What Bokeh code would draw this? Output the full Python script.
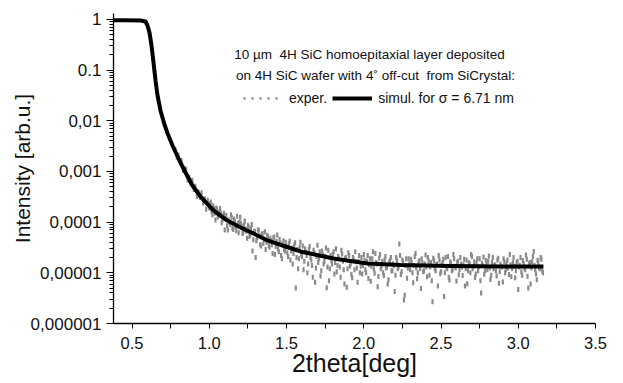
import math
from bokeh.plotting import figure
from bokeh.models import FixedTicker, Label, Legend, LegendItem, Range1d, Title
from bokeh.embed import file_html
from bokeh.resources import INLINE

# ---- data ----
sim_x = [0.38, 0.45, 0.555, 0.587, 0.600, 0.613, 0.626, 0.639, 0.652, 0.665, 0.684,
         0.710, 0.730, 0.762, 0.801, 0.846, 0.891, 0.943, 1.027, 1.105, 1.202,
         1.299, 1.377, 1.493, 1.590, 1.804, 2.024, 2.238, 2.561, 2.885, 3.163]
sim_y = [0.96, 0.96, 0.955, 0.91, 0.76, 0.55, 0.307, 0.142, 0.0625, 0.0316, 0.016,
         0.00845, 0.00562, 0.00326, 0.0018, 9.55e-4, 5.28e-4, 3.2e-4, 1.7e-4, 1.13e-4, 7.85e-5,
         5.7e-5, 4.35e-5, 3.31e-5, 2.64e-5, 1.92e-5, 1.53e-5, 1.43e-5, 1.36e-5, 1.33e-5, 1.33e-5]

# experimental points, first set
exper_x = [
    0.78, 0.79, 0.80, 0.81, 0.82, 0.83, 0.84, 0.85, 0.86, 0.87,
    0.88, 0.89, 0.90, 0.91, 0.92, 0.93, 0.94, 0.95, 0.96, 0.97,
    0.98, 0.99, 1.00, 1.01, 1.02, 1.03, 1.04, 1.05, 1.06, 1.07,
    1.08, 1.09, 1.10, 1.11, 1.12, 1.13, 1.14, 1.15, 1.16, 1.17,
    1.18, 1.19, 1.20, 1.21, 1.22, 1.23, 1.24, 1.25, 1.26, 1.27,
    1.28, 1.29, 1.30, 1.31, 1.32, 1.33, 1.34, 1.35, 1.36, 1.37,
    1.38, 1.39, 1.40, 1.41, 1.42, 1.43, 1.44, 1.45, 1.46, 1.47,
    1.48, 1.49, 1.50, 1.51, 1.52, 1.53, 1.54, 1.55, 1.56, 1.57,
    1.58, 1.59, 1.60, 1.61, 1.62, 1.63, 1.64, 1.65, 1.66, 1.67,
    1.68, 1.69, 1.70, 1.71, 1.72, 1.73, 1.74, 1.75, 1.76, 1.77,
    1.78, 1.79, 1.80, 1.81, 1.82, 1.83, 1.84, 1.85, 1.86, 1.87,
    1.88, 1.89, 1.90, 1.91, 1.92, 1.93, 1.94, 1.95, 1.96, 1.97,
    1.98, 1.99, 2.00, 2.01, 2.02, 2.03, 2.04, 2.05, 2.06, 2.07,
    2.08, 2.09, 2.10, 2.11, 2.12, 2.13, 2.14, 2.15, 2.16, 2.17,
    2.18, 2.19, 2.20, 2.21, 2.22, 2.23, 2.24, 2.25, 2.26, 2.27,
    2.28, 2.29, 2.30, 2.31, 2.32, 2.33, 2.34, 2.35, 2.36, 2.37,
    2.38, 2.39, 2.40, 2.41, 2.42, 2.43, 2.44, 2.45, 2.46, 2.47,
    2.48, 2.49, 2.50, 2.51, 2.52, 2.53, 2.54, 2.55, 2.56, 2.57,
    2.58, 2.59, 2.60, 2.61, 2.62, 2.63, 2.64, 2.65, 2.66, 2.67,
    2.68, 2.69, 2.70, 2.71, 2.72, 2.73, 2.74, 2.75, 2.76, 2.77,
    2.78, 2.79, 2.80, 2.81, 2.82, 2.83, 2.84, 2.85, 2.86, 2.87,
    2.88, 2.89, 2.90, 2.91, 2.92, 2.93, 2.94, 2.95, 2.96, 2.97,
    2.98, 2.99, 3.00, 3.01, 3.02, 3.03, 3.04, 3.05, 3.06, 3.07,
    3.08, 3.09, 3.10, 3.11, 3.12, 3.13, 3.14, 3.15, 3.16]
exper_y = [
    2.7e-3, 1.9e-3, 2.1e-3, 1.5e-3, 1.65e-3, 1.05e-3, 1.15e-3, 1.1e-3, 6.7e-4, 7.7e-4,
    5.8e-4, 6.7e-4, 4.4e-4, 5.1e-4, 3.2e-4, 4.0e-4, 3.1e-4, 3.8e-4, 2.4e-4, 2.9e-4,
    1.8e-4, 2.7e-4, 1.9e-4, 2.5e-4, 1.4e-4, 1.85e-4, 1.1e-4, 1.8e-4, 1.35e-4, 1.85e-4,
    9.7e-5, 1.35e-4, 7.0e-5, 1.35e-4, 7.0e-5, 1.0e-4, 1.4e-4, 7.6e-5, 1.15e-4, 8.0e-5,
    1.3e-4, 6.2e-5, 1.25e-4, 8.4e-5, 6.3e-5, 1.05e-4, 6.6e-5, 8.7e-5, 5.2e-5, 7.5e-5,
    2.7e-5, 6.5e-5, 2.0e-5, 5.0e-5, 6.9e-5, 3.6e-5, 5.7e-5, 3.8e-5, 6.5e-5, 4.0e-5,
    5.2e-5, 3.2e-5, 4.3e-5, 2.4e-5, 5.1e-5, 3.3e-5, 5.6e-5, 2.6e-5, 3.9e-5, 1.9e-5,
    4.3e-5, 2.7e-5, 3.3e-5, 2.1e-5, 4.2e-5, 2.7e-5, 1.5e-5, 3.5e-5, 5.0e-6, 2.9e-5,
    1.9e-5, 4.0e-5, 2.1e-5, 1.15e-5, 3.0e-5, 2.2e-5, 1.5e-5, 3.3e-5, 1.8e-5, 8.2e-6,
    2.5e-5, 1.25e-5, 3.5e-5, 1.9e-5, 8.7e-6, 2.7e-5, 1.5e-5, 2.1e-5, 5.1e-6, 2.8e-5,
    1.2e-5, 1.75e-5, 2.3e-5, 9.5e-6, 3.0e-5, 1.4e-5, 1.9e-5, 8.2e-6, 2.35e-5, 1.15e-5,
    1.95e-5, 5.2e-6, 2.5e-5, 1.35e-5, 9.3e-6, 2.0e-5, 1.15e-5, 1.65e-5, 6.5e-6, 2.2e-5,
    1.35e-5, 9.5e-6, 2.3e-5, 1.15e-5, 1.7e-5, 7.7e-6, 1.9e-5, 1.35e-5, 2.6e-5, 9.8e-6,
    1.6e-5, 5.3e-6, 1.95e-5, 1.2e-5, 1.7e-5, 8.9e-6, 2.1e-5, 1.3e-5, 7.3e-6, 1.75e-5,
    1.1e-5, 1.5e-5, 4.3e-6, 2.0e-5, 1.2e-5, 3.7e-5, 9.3e-6, 1.8e-5, 2.9e-6, 1.4e-5,
    7.8e-6, 1.9e-5, 1.15e-5, 1.6e-5, 6.4e-6, 2.1e-5, 1.25e-5, 9.9e-6, 1.75e-5, 4.9e-6,
    1.55e-5, 1.1e-5, 2.25e-5, 8.4e-6, 1.7e-5, 1.3e-5, 7.0e-6, 1.95e-5, 1.2e-5, 1.45e-5,
    5.5e-6, 1.8e-5, 1.05e-5, 1.6e-5, 3.4e-6, 2.0e-5, 1.2e-5, 8.2e-6, 1.65e-5, 1.1e-5,
    2.3e-5, 1.35e-5, 6.9e-6, 1.7e-5, 1.15e-5, 1.5e-5, 8.9e-6, 1.85e-5, 1.2e-5, 6.1e-6,
    1.6e-5, 1.0e-5, 2.1e-5, 1.35e-5, 8.1e-6, 1.55e-5, 1.1e-5, 1.9e-5, 4.0e-6, 1.4e-5,
    9.4e-6, 1.75e-5, 1.15e-5, 2.15e-5, 7.4e-6, 1.6e-5, 1.2e-5, 1.45e-5, 8.7e-6, 1.95e-5,
    1.05e-5, 1.35e-5, 6.6e-6, 1.65e-5, 1.15e-5, 1.8e-5, 9.3e-6, 1.45e-5, 1.2e-5, 2.0e-5,
    8.0e-6, 1.6e-5, 4.7e-6, 1.4e-5, 1.05e-5, 1.75e-5, 1.25e-5, 2.25e-5, 8.6e-6, 1.5e-5,
    6.0e-6, 1.65e-5, 2.65e-5, 1.15e-5, 7.3e-6, 1.6e-5, 1.2e-5, 1.85e-5, 1.0e-5]

# experimental points, interleaved set
exper_x2 = [
    1.005, 1.015, 1.025, 1.035, 1.045, 1.055, 1.065, 1.075, 1.085, 1.095,
    1.105, 1.115, 1.125, 1.135, 1.145, 1.155, 1.165, 1.175, 1.185, 1.195,
    1.205, 1.215, 1.225, 1.235, 1.245, 1.255, 1.265, 1.275, 1.285, 1.295,
    1.305, 1.315, 1.325, 1.335, 1.345, 1.355, 1.365, 1.375, 1.385, 1.395,
    1.405, 1.415, 1.425, 1.435, 1.445, 1.455, 1.465, 1.475, 1.485, 1.495,
    1.505, 1.515, 1.525, 1.535, 1.545, 1.555, 1.565, 1.575, 1.585, 1.595,
    1.605, 1.615, 1.625, 1.635, 1.645, 1.655, 1.665, 1.675, 1.685, 1.695,
    1.705, 1.715, 1.725, 1.735, 1.745, 1.755, 1.765, 1.775, 1.785, 1.795,
    1.805, 1.815, 1.825, 1.835, 1.845, 1.855, 1.865, 1.875, 1.885, 1.895,
    1.905, 1.915, 1.925, 1.935, 1.945, 1.955, 1.965, 1.975, 1.985, 1.995,
    2.005, 2.015, 2.025, 2.035, 2.045, 2.055, 2.065, 2.075, 2.085, 2.095,
    2.105, 2.115, 2.125, 2.135, 2.145, 2.155, 2.165, 2.175, 2.185, 2.195,
    2.205, 2.215, 2.225, 2.235, 2.245, 2.255, 2.265, 2.275, 2.285, 2.295,
    2.305, 2.315, 2.325, 2.335, 2.345, 2.355, 2.365, 2.375, 2.385, 2.395,
    2.405, 2.415, 2.425, 2.435, 2.445, 2.455, 2.465, 2.475, 2.485, 2.495,
    2.505, 2.515, 2.525, 2.535, 2.545, 2.555, 2.565, 2.575, 2.585, 2.595,
    2.605, 2.615, 2.625, 2.635, 2.645, 2.655, 2.665, 2.675, 2.685, 2.695,
    2.705, 2.715, 2.725, 2.735, 2.745, 2.755, 2.765, 2.775, 2.785, 2.795,
    2.805, 2.815, 2.825, 2.835, 2.845, 2.855, 2.865, 2.875, 2.885, 2.895,
    2.905, 2.915, 2.925, 2.935, 2.945, 2.955, 2.965, 2.975, 2.985, 2.995,
    3.005, 3.015, 3.025, 3.035, 3.045, 3.055, 3.065, 3.075, 3.085, 3.095,
    3.105, 3.115, 3.125, 3.135, 3.145, 3.155]
exper_y2 = [
    2.3e-4, 1.6e-4, 2.1e-4, 1.5e-4, 1.9e-4, 1.25e-4, 1.6e-4, 1.5e-4, 1.1e-4, 1.5e-4,
    1.2e-4, 8.5e-5, 1.1e-4, 9.0e-5, 1.25e-4, 7.2e-5, 1.05e-4, 6.8e-5, 9.5e-5, 1.0e-4,
    9.5e-5, 6.0e-5, 8.8e-5, 7.3e-5, 4.8e-5, 8.0e-5, 5.6e-5, 9.0e-5, 4.5e-5, 6.6e-5,
    4.3e-5, 7.0e-5, 5.4e-5, 3.4e-5, 6.0e-5, 4.6e-5, 2.9e-5, 5.5e-5, 3.5e-5, 4.8e-5,
    3.6e-5, 4.9e-5, 2.3e-5, 4.2e-5, 3.0e-5, 4.6e-5, 2.2e-5, 3.6e-5, 2.9e-5, 4.0e-5,
    2.5e-5, 3.7e-5, 1.8e-5, 3.1e-5, 2.4e-5, 3.9e-5, 2.0e-5, 1.2e-5, 3.2e-5, 2.3e-5,
    3.4e-5, 1.7e-5, 2.6e-5, 1.0e-5, 2.9e-5, 2.0e-5, 1.4e-5, 2.8e-5, 6.5e-6, 2.1e-5,
    1.6e-5, 2.6e-5, 1.1e-5, 2.3e-5, 1.7e-5, 3.1e-5, 1.3e-5, 7.0e-6, 2.2e-5, 1.5e-5,
    2.6e-5, 1.6e-5, 1.05e-5, 2.1e-5, 1.3e-5, 2.8e-5, 1.7e-5, 6.0e-6, 2.0e-5, 1.2e-5,
    2.2e-5, 1.5e-5, 8.0e-6, 1.85e-5, 2.6e-5, 1.25e-5, 1.7e-5, 1.0e-5, 2.0e-5, 1.4e-5,
    1.8e-5, 1.0e-5, 2.2e-5, 1.45e-5, 6.8e-6, 1.9e-5, 1.2e-5, 2.4e-5, 1.5e-5, 8.5e-6,
    2.3e-5, 1.35e-5, 1.0e-5, 1.8e-5, 1.25e-5, 6.0e-6, 1.65e-5, 2.0e-5, 1.1e-5, 1.4e-5,
    9.0e-6, 1.75e-5, 1.3e-5, 2.2e-5, 1.05e-5, 1.6e-5, 3.6e-6, 1.9e-5, 1.25e-5, 1.5e-5,
    1.85e-5, 1.0e-5, 1.4e-5, 2.4e-5, 7.6e-6, 1.6e-5, 1.2e-5, 1.9e-5, 1.05e-5, 1.5e-5,
    1.3e-5, 2.0e-5, 9.0e-6, 1.6e-5, 2.7e-6, 1.75e-5, 1.1e-5, 1.5e-5, 2.2e-5, 9.6e-6,
    1.45e-5, 1.85e-5, 1.0e-5, 1.3e-5, 2.1e-5, 7.2e-6, 1.55e-5, 1.15e-5, 1.9e-5, 1.25e-5,
    1.6e-5, 9.2e-6, 2.0e-5, 1.3e-5, 1.45e-5, 5.5e-6, 1.8e-5, 1.1e-5, 1.5e-5, 2.3e-5,
    1.2e-5, 1.65e-5, 9.5e-6, 1.9e-5, 1.3e-5, 7.0e-6, 1.55e-5, 2.05e-5, 1.1e-5, 1.4e-5,
    1.7e-5, 1.25e-5, 9.0e-6, 2.0e-5, 1.4e-5, 1.1e-5, 1.8e-5, 6.2e-6, 1.5e-5, 1.3e-5,
    1.9e-5, 1.0e-5, 1.55e-5, 1.25e-5, 2.3e-5, 8.4e-6, 1.6e-5, 1.35e-5, 1.1e-5, 1.7e-5,
    1.3e-5, 2.0e-5, 9.0e-6, 1.5e-5, 1.15e-5, 1.85e-5, 5.0e-6, 1.6e-5, 1.25e-5, 2.1e-5,
    1.4e-5, 9.5e-6, 1.75e-5, 1.25e-5, 2.0e-5, 1.1e-5]

x_ticks = [0.5, 1.0, 1.5, 2.0, 2.5, 3.0, 3.5]
x_tick_labels = ["0.5", "1.0", "1.5", "2.0", "2.5", "3.0", "3.5"]
y_ticks = [1e-6, 1e-5, 1e-4, 1e-3, 1e-2, 1e-1, 1.0]
y_tick_labels = ["0,000001", "0,00001", "0,0001", "0,001", "0,01", "0.1", "1"]

FONT = "Liberation Sans"
INK = "#111111"
DOT = "#8a8a8a"

p = figure(width=623, height=383, y_axis_type="log",
           x_range=Range1d(0.38, 3.5), y_range=Range1d(1e-6, 1.31),
           output_backend="svg", toolbar_location=None,
           min_border_left=113, min_border_right=28,
           min_border_top=13, min_border_bottom=60)
p.outline_line_color = None
p.xgrid.visible = False
p.ygrid.visible = False
p.background_fill_color = "white"
p.border_fill_color = "white"

# experimental dots
p.scatter(exper_x, exper_y, marker="dash", angle=math.pi / 2, size=5,
          line_width=2.2, line_color=DOT)
p.scatter(exper_x2, exper_y2, marker="dash", angle=math.pi / 2, size=5,
          line_width=2.2, line_color=DOT)
# simulation
sim = p.line(sim_x, sim_y, line_width=4, line_color="black", line_join="round")
# legend proxy for the dotted sample (a single point draws nothing in the plot)
dots_proxy = p.line(sim_x[:1], sim_y[:1], line_color=DOT, line_width=2.5,
                    line_dash="2 6")

legend = Legend(items=[LegendItem(label="exper.", renderers=[dots_proxy]),
                       LegendItem(label="simul. for σ = 6.71 nm", renderers=[sim])],
                location=(130, 217), orientation="horizontal",
                glyph_width=40, glyph_height=14, label_standoff=6, spacing=5,
                padding=0, margin=0, border_line_color=None,
                background_fill_alpha=0, label_text_font_size="14px",
                label_text_font=FONT, label_text_color=INK)
p.add_layout(legend)

# axes
xa = p.xaxis[0]
xa.ticker = FixedTicker(ticks=x_ticks, minor_ticks=[0.75, 1.25, 1.75, 2.25, 2.75, 3.25])
xa.major_label_overrides = dict(zip(x_ticks, x_tick_labels))
xa.major_tick_in = 0
xa.major_tick_out = 5
xa.minor_tick_in = 0
xa.minor_tick_out = 5
xa.major_label_standoff = 8
xa.major_label_text_font = FONT
xa.major_label_text_font_size = "16.5px"
xa.major_label_text_color = INK
xa.axis_line_width = 1.3
xa.axis_line_color = "black"
xa.major_tick_line_color = "black"
xa.minor_tick_line_color = "black"
xa.axis_label = "2theta[deg]"
xa.axis_label_standoff = -3
xa.axis_label_text_font = FONT
xa.axis_label_text_font_size = "25px"
xa.axis_label_text_font_style = "normal"
xa.axis_label_text_color = INK

minor_y = [k * 10.0 ** d for d in range(-6, 0) for k in range(2, 10)]
ya = p.yaxis[0]
ya.ticker = FixedTicker(ticks=y_ticks, minor_ticks=minor_y)
ya.major_label_overrides = dict(zip(y_ticks, y_tick_labels))
ya.major_tick_in = 0
ya.major_tick_out = 7
ya.minor_tick_in = 0
ya.minor_tick_out = 4
ya.major_label_standoff = 5
ya.major_label_text_font = FONT
ya.major_label_text_font_size = "17px"
ya.major_label_text_color = INK
ya.axis_line_width = 1.3
ya.axis_line_color = "black"
ya.major_tick_line_color = "black"
ya.minor_tick_line_color = "black"

# y title as a left-side title, shifted up toward the top of the axis
p.add_layout(Title(text="Intensity [arb.u.]", align="center", offset=62,
                   standoff=-13, text_font=FONT, text_font_size="21px",
                   text_font_style="normal", text_color=INK), "left")

# annotation text (screen units relative to plot frame)
p.add_layout(Label(x=256, y=269, x_units="screen", y_units="screen",
                   text="10 µm\u00a0 4H SiC homoepitaxial layer deposited",
                   text_align="center", text_baseline="middle",
                   text_font=FONT, text_font_size="13.5px", text_color=INK))
p.add_layout(Label(x=262, y=248, x_units="screen", y_units="screen",
                   text="on 4H SiC wafer with 4\u02da off-cut\u00a0 from SiCrystal:",
                   text_align="center", text_baseline="middle",
                   text_font=FONT, text_font_size="13.5px", text_color=INK))

open("out.html", "w").write(file_html(p, INLINE))
